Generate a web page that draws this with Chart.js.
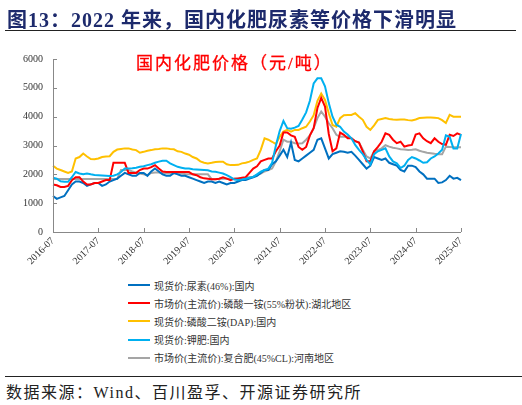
<!DOCTYPE html>
<html><head><meta charset="utf-8">
<script src="https://cdn.jsdelivr.net/npm/chart.js@4.4.0/dist/chart.umd.min.js"></script>
<style>
html,body{margin:0;padding:0;background:#fff;}
#wrap{position:relative;width:522px;height:405px;overflow:hidden;background:#fff;}
#title{position:absolute;left:7px;top:4px;font:bold 20px "Liberation Serif","Noto Sans CJK SC",serif;color:#1d2a6c;letter-spacing:1px;white-space:nowrap;}
#rule1{position:absolute;left:5px;top:30px;width:511px;height:0;border-top:1.5px solid #222;}
#ctitle{position:absolute;left:136px;top:49px;font:17px "Liberation Serif","Noto Sans CJK SC",serif;color:#ff0000;letter-spacing:2px;white-space:nowrap;-webkit-text-stroke:0.3px #ff0000;}
canvas{position:absolute;left:0;top:0;}
#legend{position:absolute;left:128px;top:276px;font:10px "Liberation Serif","Noto Sans CJK SC",serif;color:#333;}
.li{height:18.2px;display:flex;align-items:center;white-space:nowrap;}
.ln{width:22px;height:2px;margin-right:4px;}
#rule2{position:absolute;left:5px;top:375.5px;width:517px;height:0;border-top:1.2px solid #222;}
#src{position:absolute;left:6px;top:379px;font:16px "Liberation Serif","Noto Sans CJK SC",serif;color:#222;letter-spacing:1.5px;white-space:nowrap;}
</style></head>
<body><div id="wrap">
<canvas id="c" width="522" height="275"></canvas>
<div id="title">图13：2022 年来，国内化肥尿素等价格下滑明显</div>
<div id="rule1"></div>
<div id="ctitle">国内化肥价格（元/吨）</div>
<div id="legend"></div>
<div id="rule2"></div>
<div id="src">数据来源：Wind、百川盈孚、开源证券研究所</div>
</div>
<script>
// months 2016-07 .. 2025-07
const months = [];
for (let y = 2016, m = 7; y < 2025 || (y === 2025 && m <= 7); ) {
  months.push(y + '-' + String(m).padStart(2, '0'));
  m++; if (m > 12) { m = 1; y++; }
}
const tickLabels = ['2016-07','2017-07','2018-07','2019-07','2020-07','2021-07','2022-07','2023-07','2024-07','2025-07'];
const yTicks = [0,1000,2000,3000,4000,5000,6000];

const seriesNames = [
  '现货价:尿素(46%):国内',
  '市场价(主流价):磷酸一铵(55%粉状):湖北地区',
  '现货价:磷酸二铵(DAP):国内',
  '现货价:钾肥:国内',
  '市场价(主流价):复合肥(45%CL):河南地区'
];
const urea = [
 1250,1150,1200,1250,1450,1650,
 1750,1750,1700,1600,1650,1700,1700,1600,1650,1750,1800,1850,
 1950,2050,2000,1950,1950,2050,2050,1950,2100,2200,2100,2000,
 1950,1950,2050,2000,1950,1950,1900,1850,1800,1750,1700,1750,
 1750,1700,1750,1700,1650,1700,1700,1750,1800,1800,1850,1900,
 1950,2050,2150,2150,2350,2450,2650,2850,2600,3100,2500,2450,
 2550,2650,2750,2850,3200,3250,2900,2550,2700,2750,2800,2780,
 2750,2780,2650,2500,2350,2200,2300,2600,2550,2500,2550,2400,
 2350,2300,2150,2100,2300,2300,2250,2100,2000,1850,1850,1850,
 1700,1720,1800,1950,1850,1880,1800
];
const map55 = [
 1650,1620,1560,1560,1600,1800,
 1900,1900,1750,1650,1650,1700,1700,1750,1800,1800,2400,2400,
 2400,2400,2050,2050,2050,2150,2200,2200,2250,2320,2200,2100,
 2080,2080,2080,2080,2080,2080,2080,2000,1970,1900,1860,1850,
 1830,1830,1850,1900,1850,1800,1850,1850,1880,1900,2050,2200,
 2280,2450,2500,2550,2550,2800,3000,3450,3450,3350,3300,2950,
 2850,2950,3350,3600,4300,4650,4350,3400,2800,2900,3450,3370,
 3250,3250,3150,3100,2800,2450,2450,2800,2950,3130,3420,3370,
 3200,3080,3130,2960,3000,3020,3380,3420,3250,3150,3080,3250,
 3130,3050,3020,3370,3330,3420,3370
];
const dap = [
 2300,2200,2150,2100,2050,2100,
 2550,2600,2720,2620,2530,2520,2550,2600,2620,2630,2780,2860,
 2880,2900,2900,2860,2840,2750,2780,2820,2840,2870,2880,2900,
 2900,2880,2870,2800,2780,2720,2680,2600,2550,2450,2400,2380,
 2400,2430,2440,2440,2350,2320,2320,2330,2380,2400,2440,2500,
 2550,2850,3250,3200,3130,3050,3300,3480,3540,3480,3540,3540,
 3600,3650,3830,4050,4550,4800,4580,4120,3710,3650,3950,4050,
 4060,4060,4120,4000,3890,3650,3540,3700,3890,3920,3950,3920,
 3900,3890,3900,3900,3880,3870,3900,3950,3960,3970,3970,3960,
 3950,3880,3780,4060,4000,4000,4000
];
const potash = [
 1880,1850,1760,1740,1740,1900,
 2080,2030,2000,2030,2000,1980,1970,1960,1950,1940,1950,2000,
 2080,2200,2200,2210,2230,2260,2280,2320,2350,2400,2440,2470,
 2470,2380,2320,2260,2230,2200,2200,2180,2170,2160,2150,2140,
 2100,2090,2060,2030,1970,1900,1820,1800,1820,1850,1880,1910,
 2000,2090,2150,2200,2400,3000,3500,3850,3600,3580,3620,3680,
 3900,4150,4550,5150,5330,5330,5050,4470,4000,3720,3650,3480,
 3380,3250,3020,2850,2700,2500,2350,2700,2800,2850,2900,2620,
 2450,2380,2220,2300,2500,2600,2550,2480,2400,2420,2550,2620,
 2720,2850,3350,3300,2900,2900,3400
];
const compound = [
 1840,1840,1840,1840,1840,1840,
 1840,1840,1840,1840,1840,1840,1840,1840,1840,1840,1840,1840,
 2150,2150,2150,2100,2060,2030,2000,1970,2050,2060,2060,2040,
 2040,2030,2030,2030,2030,2010,2000,2000,2000,2000,2000,2000,
 1830,1830,1850,1850,1850,1850,1850,1860,1870,1880,1900,1920,
 1980,2030,2100,2150,2200,2450,2800,3200,3130,3130,3080,3070,
 3080,3200,3350,3600,3950,4180,4000,3770,3600,3370,3300,3300,
 3300,3250,3150,3100,2850,2620,2550,2800,2850,2900,3010,2960,
 2920,2900,2870,2860,2840,2850,2870,2820,2780,2750,2730,2710,
 2700,2700,2960,2950,2940,2940,2940
];
const colors = ['#0070C0','#FF0000','#FFC000','#00B0F0','#A5A5A5'];
const allSeries = [urea, map55, dap, potash, compound];

const datasets = allSeries.map((d, i) => ({
  label: seriesNames[i], data: d, borderColor: colors[i], backgroundColor: colors[i],
  borderWidth: 2, pointRadius: 0, tension: 0, fill: false
}));
datasets[4].order = 5; datasets[3].order = 1; datasets[2].order = 4; datasets[1].order = 2; datasets[0].order = 3;

const innerTicks = {
  id: 'innerTicks',
  afterDraw(chart) {
    const ctx = chart.ctx, x = chart.scales.x, y = chart.scales.y;
    ctx.save();
    ctx.strokeStyle = '#888'; ctx.lineWidth = 1;
    ctx.beginPath();
    ctx.moveTo(x.left + 0.5, y.top); ctx.lineTo(x.left + 0.5, y.bottom + 0.5);
    ctx.lineTo(x.right, y.bottom + 0.5);
    yTicks.forEach(v => { const p = Math.round(y.getPixelForValue(v)) + 0.5; ctx.moveTo(x.left, p); ctx.lineTo(x.left + 4, p); });
    tickLabels.forEach(l => { const p = Math.round(x.getPixelForValue(months.indexOf(l))) + 0.5; ctx.moveTo(p, y.bottom); ctx.lineTo(p, y.bottom - 4); });
    ctx.stroke();
    ctx.restore();
  }
};

new Chart(document.getElementById('c'), {
  type: 'line',
  data: { labels: months, datasets },
  options: {
    responsive: false, animation: false, devicePixelRatio: 1,
    layout: { padding: { top: 59, right: 61, left: 0, bottom: 0 } },
    plugins: { legend: { display: false }, tooltip: { enabled: false }, title: { display: false } },
    scales: {
      x: {
        type: 'category', offset: false,
        grid: { display: false, drawTicks: false },
        border: { display: false },
        ticks: {
          autoSkip: false, maxRotation: 45, minRotation: 45, padding: 3,
          color: '#333', font: { family: 'Liberation Serif', size: 10 },
          callback: function(v) { const l = months[v]; return tickLabels.includes(l) ? l : null; }
        },
        afterFit(s) { s.height = 275 - 232; }
      },
      y: {
        min: 0, max: 6000,
        afterBuildTicks(s) { s.ticks = yTicks.map(v => ({ value: v })); },
        grid: { display: false, drawTicks: false },
        border: { display: false },
        ticks: { padding: 10, color: '#333', font: { family: 'Liberation Serif', size: 10 },
          callback: v => String(v) },
        afterFit(s) { s.width = 53; }
      }
    }
  },
  plugins: [innerTicks]
});

const lg = document.getElementById('legend');
datasets.forEach(d => {
  const row = document.createElement('div'); row.className = 'li';
  const ln = document.createElement('span'); ln.className = 'ln'; ln.style.background = d.borderColor;
  const tx = document.createElement('span'); tx.textContent = d.label;
  row.appendChild(ln); row.appendChild(tx); lg.appendChild(row);
});
</script>
</body></html>
